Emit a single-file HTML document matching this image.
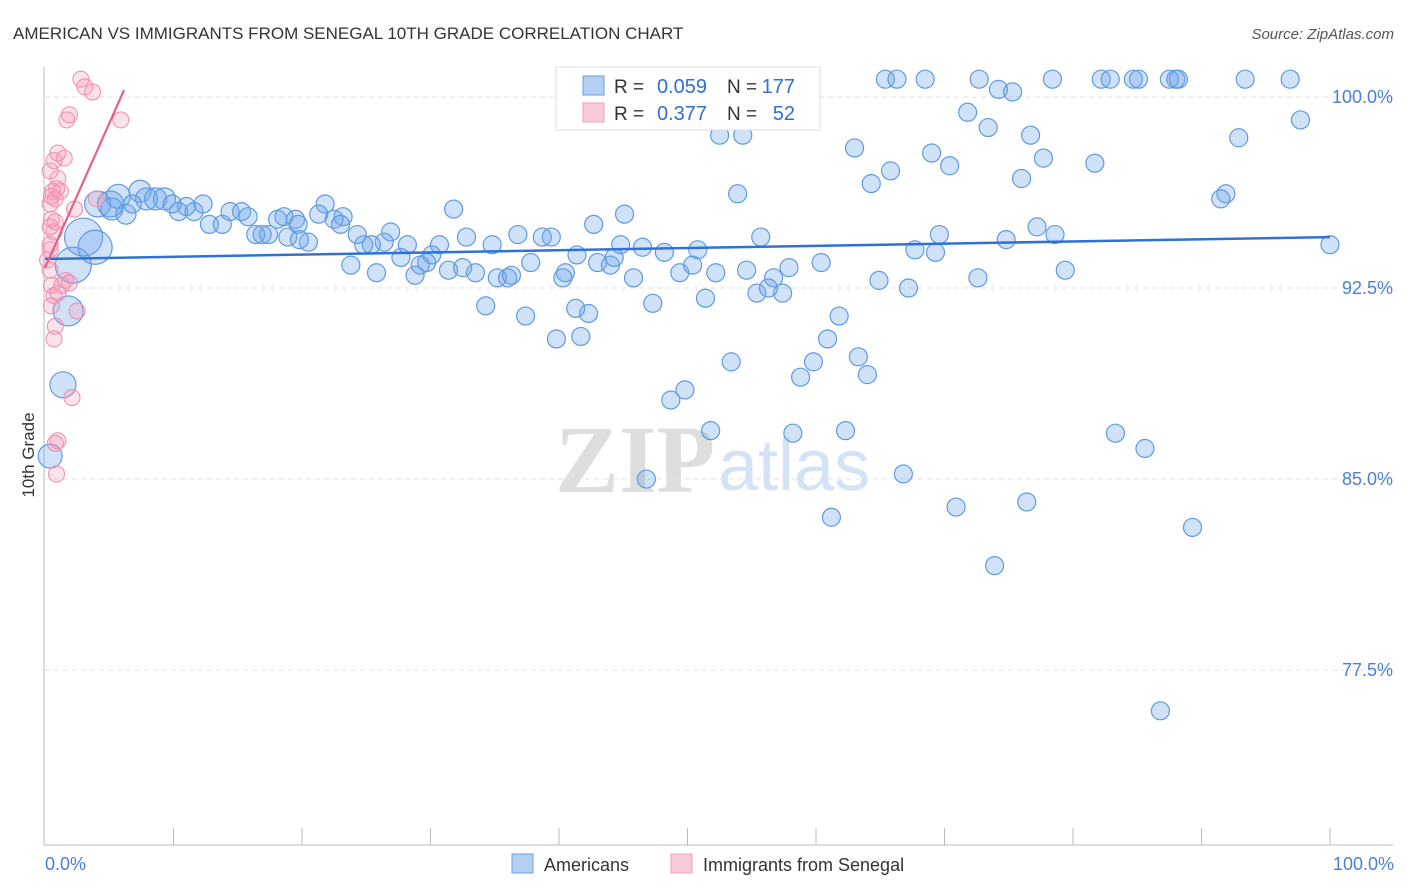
<!DOCTYPE html>
<html><head><meta charset="utf-8"><style>
body{margin:0;background:#fff;font-family:"Liberation Sans",sans-serif;}
#wrap{position:relative;width:1406px;height:892px;overflow:hidden;}
</style></head><body><div id="wrap">
<svg id="svg" width="1406" height="892" xmlns="http://www.w3.org/2000/svg">
<text x="13" y="39" font-size="17" fill="#333">AMERICAN VS IMMIGRANTS FROM SENEGAL 10TH GRADE CORRELATION CHART</text>
<text x="1394" y="39" font-size="15" fill="#555" font-style="italic" text-anchor="end">Source: ZipAtlas.com</text>
<text x="555" y="492" font-size="96" font-family="Liberation Serif,serif" font-weight="bold" fill="#dedede">ZIP</text>
<text x="718" y="490" font-size="72" fill="#d3e2f5">atlas</text>
<g id="grid"></g><g id="axes"></g><g id="pts"></g><g id="lines"></g>
<text transform="translate(34,455) rotate(-90)" font-size="17" fill="#333" text-anchor="middle">10th Grade</text>
<text x="45" y="870" font-size="18" fill="#4a7fd6">0.0%</text>
<text x="1394" y="870" font-size="18" fill="#4a7fd6" text-anchor="end">100.0%</text>
<g>
<rect x="556" y="67" width="264" height="63" fill="#fff" stroke="#ddd"/>
<rect x="583" y="76" width="21" height="19" fill="#b4cff2" stroke="#6a9fe0"/>
<rect x="583" y="103" width="21" height="19" fill="#fbcad8" stroke="#f0a0b8"/>
<text x="614" y="93" font-size="19" fill="#333">R =</text>
<text x="707" y="93" font-size="20" fill="#2f6fd6" text-anchor="end">0.059</text>
<text x="727" y="93" font-size="19" fill="#333">N =</text>
<text x="795" y="93" font-size="20" fill="#2f6fd6" text-anchor="end">177</text>
<text x="614" y="120" font-size="19" fill="#333">R =</text>
<text x="707" y="120" font-size="20" fill="#2f6fd6" text-anchor="end">0.377</text>
<text x="727" y="120" font-size="19" fill="#333">N =</text>
<text x="795" y="120" font-size="20" fill="#2f6fd6" text-anchor="end">52</text>
</g>
<g>
<rect x="512" y="854" width="21" height="19" fill="#b4cff2" stroke="#6a9fe0"/>
<text x="544" y="871" font-size="18" fill="#333">Americans</text>
<rect x="671" y="854" width="21" height="19" fill="#fbcad8" stroke="#f0a0b8"/>
<text x="703" y="871" font-size="18" fill="#333">Immigrants from Senegal</text>
</g>
</svg></div>
<script>
const yTicks=[100,92.5,85,77.5];
const yTickLabels=["100.0%","92.5%","85.0%","77.5%"];
const blueX=[59.2,65.4,66.3,68.5,72.7,78.4,82.2,82.9,84.7,85.1,87.5,88.0,88.2,93.4,96.9,71.8,74.2,75.3,97.7,73.4,76.7,52.5,54.3,92.9,63.0,69.0,77.7,81.7,70.4,65.8,64.3,76.0,53.9,91.9,91.5,45.1,42.7,31.8,21.8,23.2,77.2,78.6,74.8,69.6,67.7,69.3,55.7,48.2,50.8,46.5,44.8,43.0,44.0,44.3,41.4,39.4,38.7,36.8,34.8,32.8,30.7,30.1,28.2,26.9,26.4,25.4,24.8,24.3,27.7,29.7,29.2,31.4,32.5,33.5,35.2,36.0,36.3,37.8,40.5,40.3,23.8,25.8,28.8,34.3,37.4,39.8,41.7,41.3,42.3,45.8,47.3,49.4,50.4,52.2,51.4,54.6,55.4,56.7,57.4,56.3,57.9,60.4,61.8,60.9,64.9,67.2,72.6,79.4,100,53.4,58.8,59.8,63.3,64.0,49.8,48.7,51.8,58.2,62.3,46.8,66.8,61.2,70.9,76.4,83.3,85.6,89.3,73.9,86.8,
0.4,1.4,1.8,2.2,3.0,3.9,4.1,5.1,5.7,5.2,6.3,7.4,7.9,8.6,9.3,10.4,11.0,11.6,12.3,12.8,13.8,14.4,15.3,15.8,16.4,17.4,16.9,18.1,18.6,19.5,19.7,18.9,20.5,19.8,21.3,22.5,23.0,9.9,6.8];
const blueY=[100.7,100.7,100.7,100.7,100.7,100.7,100.7,100.7,100.7,100.7,100.7,100.7,100.7,100.7,100.7,99.4,100.3,100.2,99.1,98.8,98.5,98.5,98.5,98.4,98.0,97.8,97.6,97.4,97.3,97.1,96.6,96.8,96.2,96.2,96.0,95.4,95.0,95.6,95.8,95.3,94.9,94.6,94.4,94.6,94.0,93.9,94.5,93.9,94.0,94.1,94.2,93.5,93.4,93.7,93.8,94.5,94.5,94.6,94.2,94.5,94.2,93.8,94.2,94.7,94.3,94.2,94.2,94.6,93.7,93.5,93.4,93.2,93.3,93.1,92.9,92.9,93.0,93.5,93.1,92.9,93.4,93.1,93.0,91.8,91.4,90.5,90.6,91.7,91.5,92.9,91.9,93.1,93.4,93.1,92.1,93.2,92.3,92.9,92.3,92.5,93.3,93.5,91.4,90.5,92.8,92.5,92.9,93.2,94.2,89.6,89.0,89.6,89.8,89.1,88.5,88.1,86.9,86.8,86.9,85.0,85.2,83.5,83.9,84.1,86.8,86.2,83.1,81.6,75.9,
85.9,88.7,91.6,93.4,94.5,94.1,95.8,95.8,96.1,95.6,95.4,96.3,96.0,96.0,96.0,95.5,95.7,95.5,95.8,95.0,95.0,95.5,95.5,95.3,94.6,94.6,94.6,95.2,95.3,95.2,95.0,94.5,94.3,94.4,95.4,95.2,95.0,95.8,95.8];
const bigSizes=[12,13,15,18,19,17,13,13,12,11,10,11,11,11,11];
const pinkX=[2.8,3.1,3.7,1.9,1.7,5.9,1.0,1.5,0.7,0.4,1.0,0.9,0.6,1.2,0.5,0.8,0.4,4.0,2.3,0.5,0.8,0.4,0.7,0.4,0.2,0.4,1.6,1.9,1.3,0.5,0.7,1.0,0.5,2.5,0.8,0.7,2.1,1.0,0.8,0.9,0.4];
const pinkY=[100.7,100.4,100.2,99.3,99.1,99.1,97.8,97.6,97.5,97.1,96.8,96.4,96.3,96.3,96.1,96.0,95.8,96.0,95.6,95.2,95.1,94.9,94.7,94.2,93.6,93.2,92.8,92.7,92.6,92.6,92.2,92.3,91.8,91.6,91.0,90.5,88.2,86.5,86.4,85.2,94.0];
const blueTrend=[[0,93.64],[100,94.5]];
const pinkTrend=[[0,93.29],[6.15,100.27]];
const NS="http://www.w3.org/2000/svg";
const X=v=>45+v*12.85, Y=v=>97+(100-v)*25.47;
function mk(t,a,p){const e=document.createElementNS(NS,t);for(const k in a)e.setAttribute(k,a[k]);document.getElementById(p).appendChild(e);return e;}
yTicks.forEach((t,i)=>{
 const l=mk('line',{x1:45,x2:1393,y1:Y(t),y2:Y(t),stroke:'#e2e2e2','stroke-dasharray':'5,4'},'grid');
 
 
 const tx=mk('text',{x:1393,y:Y(t)+6,'font-size':18,fill:'#4a7fd6','text-anchor':'end'},'grid');
 tx.textContent=yTickLabels[i];
 
 
});
mk('line',{x1:44,x2:44,y1:67,y2:845,stroke:'#bbb'},'axes');
mk('line',{x1:44,x2:1393,y1:845,y2:845,stroke:'#bbb'},'axes');
for(let i=1;i<=10;i++){const t=mk('line',{x1:X(i*10),x2:X(i*10),y1:828,y2:845,stroke:'#bbb'},'axes');
 
 }
const nBig=bigSizes.length, nb=blueX.length;
for(let i=0;i<nb;i++){const off=i-(nb-39);let r=9;if(off>=0&&off<nBig)r=bigSizes[off];
 const c=mk('circle',{cx:X(blueX[i]),cy:Y(blueY[i]),r:r,fill:'rgba(110,165,232,0.32)',stroke:'#5f9ae2','stroke-width':1.2},'pts');
 
 }
for(let i=0;i<pinkX.length;i++){
 const c=mk('circle',{cx:X(pinkX[i]),cy:Y(pinkY[i]),r:8,fill:'rgba(245,150,180,0.28)',stroke:'#f092b2','stroke-width':1.1},'pts');
 
 }
const bl=mk('line',{x1:X(blueTrend[0][0]),y1:Y(blueTrend[0][1]),x2:X(blueTrend[1][0]),y2:Y(blueTrend[1][1]),stroke:'#2f72d6','stroke-width':2.5},'lines');


const pl=mk('line',{x1:X(pinkTrend[0][0]),y1:Y(pinkTrend[0][1]),x2:X(pinkTrend[1][0]),y2:Y(pinkTrend[1][1]),stroke:'#e8608a','stroke-width':2.2},'lines');


</script></body></html>
